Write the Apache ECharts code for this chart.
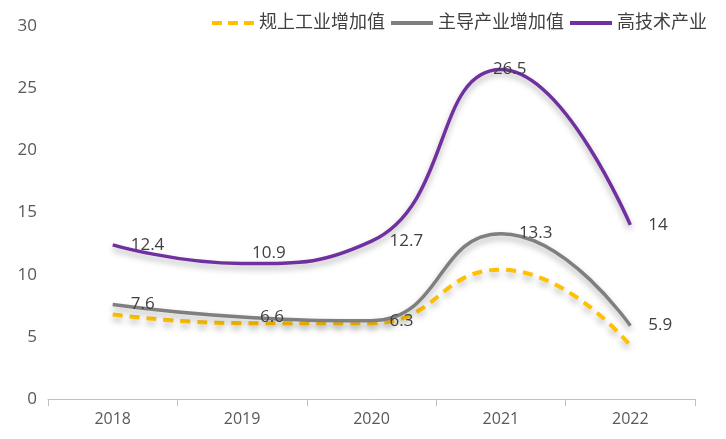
<!DOCTYPE html>
<html>
<head>
<meta charset="utf-8">
<script src="https://cdn.jsdelivr.net/npm/echarts@6/dist/echarts.min.js"></script>
<style>
  html, body { margin: 0; padding: 0; background: #fff; }
  #main { width: 726px; height: 439px; }
</style>
</head>
<body>
<div id="main"></div>
<script>
  var years = ['2018', '2019', '2020', '2021', '2022'];
  var guishang = [6.8, 6.1, 6.1, 10.4, 4.3];
  var zhudao = [7.6, 6.6, 6.3, 13.3, 5.9];
  var gaojishu = [12.4, 10.9, 12.7, 26.5, 14];
  var yTicks = [0, 5, 10, 15, 20, 25, 30];

  var font = '"Open Sans", "Noto Sans CJK SC", sans-serif';
  var shadow = { shadowColor: 'rgba(0,0,0,0.3)', shadowBlur: 6, shadowOffsetY: 4 };
  var solidIcon = 'path://M0,6 L42,6 L42,10 L0,10 Z';
  var dashIcon = 'path://M0,6 L10,6 L10,10 L0,10 Z M16,6 L26,6 L26,10 L16,10 Z M32,6 L42,6 L42,10 L32,10 Z';
  var labelStyle = { show: true, position: 'right', distance: 18, color: '#404040', fontSize: 17, fontFamily: font };

  // nudge a few labels the way the original sits them
  var purpleOffsets = { 1: [-8, -10], 3: [-26, 0] };
  var purpleData = gaojishu.map(function (v, i) {
      return purpleOffsets[i] ? { value: v, label: { offset: purpleOffsets[i] } } : v;
  });

  var chart = echarts.init(document.getElementById('main'));

  chart.setOption({
      animation: false,
      grid: { left: 48, right: 31, top: 26, bottom: 40 },
      legend: {
          right: 14,
          top: 9,
          itemWidth: 42,
          itemHeight: 16,
          itemGap: 6,
          textStyle: { color: '#404040', fontSize: 18, fontFamily: font },
          data: [
              { name: '规上工业增加值', icon: dashIcon },
              { name: '主导产业增加值', icon: solidIcon },
              { name: '高技术产业', icon: solidIcon }
          ]
      },
      xAxis: {
          type: 'category',
          data: years,
          axisLine: { lineStyle: { color: '#bfbfbf', width: 1 } },
          axisTick: { show: true, alignWithLabel: false, length: 7, lineStyle: { color: '#bfbfbf' } },
          axisLabel: { color: '#595959', fontSize: 16, fontFamily: font, margin: 12 }
      },
      yAxis: {
          type: 'value',
          min: yTicks[0],
          max: yTicks[yTicks.length - 1],
          interval: 5,
          axisLine: { show: false },
          axisTick: { show: false },
          splitLine: { show: false },
          axisLabel: { color: '#595959', fontSize: 17, fontFamily: font, margin: 11 }
      },
      series: [{
          name: '规上工业增加值',
          type: 'line',
          data: guishang,
          smooth: 0.5,
          symbol: 'circle',
          symbolSize: 0,
          color: '#FFC000',
          lineStyle: Object.assign({ color: '#FFC000', width: 4, type: [10, 7] }, shadow)
      }, {
          name: '主导产业增加值',
          type: 'line',
          data: zhudao,
          smooth: 0.5,
          symbol: 'circle',
          symbolSize: 0,
          color: '#7F7F7F',
          lineStyle: Object.assign({ color: '#7F7F7F', width: 3.5 }, shadow),
          label: labelStyle
      }, {
          name: '高技术产业',
          type: 'line',
          data: purpleData,
          smooth: 0.5,
          symbol: 'circle',
          symbolSize: 0,
          color: '#7030A0',
          lineStyle: Object.assign({ color: '#7030A0', width: 3.5 }, shadow),
          label: labelStyle
      }]
  });
</script>
</body>
</html>
